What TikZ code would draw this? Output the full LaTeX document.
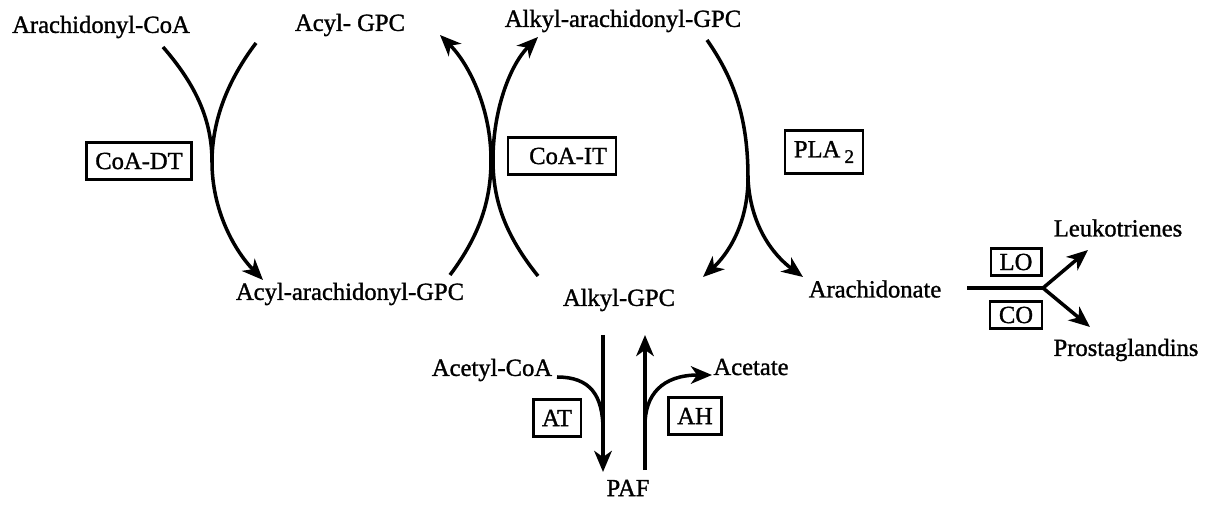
\documentclass[tikz,border=0pt]{standalone}
\usepackage{fontspec}
\setmainfont{Liberation Serif}[BoldFont={Liberation Serif}, BoldFeatures={FakeBold=1.2}]
\usetikzlibrary{arrows.meta}

\tikzset{
  enzyme/.style={draw=black, line width=1.5pt, inner xsep=5pt, inner ysep=6pt},
  smallenzyme/.style={enzyme, inner ysep=3pt},
  flux/.style={line width=2pt},
}

\begin{document}
\begin{tikzpicture}
            [x=0.02cm, y=-0.02cm, >={Stealth[length=12pt,width=10pt,inset=3.5pt]},
             font=\fontsize{14}{16}\bfseries, semithick]
            \useasboundingbox (0,0) rectangle (1220,506);

            % metabolites
            \node (arcoa) at (101,27) {Arachidonyl-CoA};
            \node (acylgpc) at (350,25) {Acyl- GPC};
            \node (alkaragpc) at (623,21) {Alkyl-arachidonyl-GPC};
            \node (acylaragpc) at (350,294) {Acyl-arachidonyl-GPC};
            \node (alkylgpc) at (619,300) {Alkyl-GPC};
            \node (arach) at (875,289) {Arachidonate};
            \node (leuko) at (1118,228) {Leukotrienes};
            \node (prosta) at (1126,350) {Prostaglandins};
            \node (acetylcoa) at (492,370) {Acetyl-CoA};
            \node (acetate) at (751,367) {Acetate};
            \node (paf) at (628,488) {PAF};

            % enzymes
            \node[enzyme] (coadt) at (139,161) {CoA-DT};
            \node[enzyme] (coait) at (562,156) {\hspace{0.5em}CoA-IT};
            \node[enzyme] (pla) at (824,152) {PLA\,\raisebox{-0.5ex}{\fontsize{11}{12}\selectfont 2}};
            \node[smallenzyme] (lo) at (1016,262) {LO};
            \node[smallenzyme] (co) at (1016,315) {CO};
            \node[enzyme] (at) at (557,418) {AT};
            \node[enzyme] (ah) at (695,416) {AH};

            % connector ends
            \coordinate (dtin) at (163,47);
            \coordinate (dtco) at (256,43);
            \coordinate (dtj) at (212,162);
            \coordinate (dtout) at (263,280);
            \coordinate (itl) at (450,275);
            \coordinate (itr) at (538,276);
            \coordinate (itlout) at (440,35);
            \coordinate (itrout) at (538,37);
            \coordinate (plain) at (707,40);
            \coordinate (plaj) at (748,178);
            \coordinate (plal) at (703,277);
            \coordinate (plar) at (803,277);
            \coordinate (arin) at (967,288);
            \coordinate (arj) at (1043,288);
            \coordinate (ltout) at (1088,250);
            \coordinate (pgout) at (1090,327);
            \coordinate (atin) at (603,335);
            \coordinate (atj) at (603,430);
            \coordinate (atout) at (603,472);
            \coordinate (acin) at (557,377);
            \coordinate (ahin) at (645,470);
            \coordinate (ahj) at (645,425);
            \coordinate (ahout) at (645,335);
            \coordinate (aceout) at (712,375);

            % CoA-DT
            \draw[flux, ->] (dtin) .. controls (196,85) and (212,120) .. (dtj)
                .. controls (212,210) and (234,250) .. (dtout);
            \draw[flux] (dtco) .. controls (228,80) and (212,120) .. (dtj);

            % CoA-IT
            \draw[flux, ->] (itl) .. controls (480,235) and (491,200) .. (491,160)
                .. controls (491,110) and (470,65) .. (itlout);
            \draw[flux, ->] (itr) .. controls (505,235) and (493,200) .. (493,160)
                .. controls (493,110) and (510,65) .. (itrout);

            % PLA2
            \draw[flux] (plain) .. controls (735,80) and (748,120) .. (plaj);
            \draw[flux, ->] (plaj) .. controls (748,225) and (727,255) .. (plal);
            \draw[flux, ->] (plaj) .. controls (750,225) and (773,255) .. (plar);

            % LO / CO
            \draw[flux] (arin) -- (arj);
            \draw[flux, ->] (arj) -- (ltout);
            \draw[flux, ->] (arj) -- (pgout);

            % AT / AH
            \draw[flux, ->] (atin) -- (atout);
            \draw[flux] (acin) .. controls (590,377) and (603,395) .. (atj);
            \draw[flux, ->] (ahin) -- (ahout);
            \draw[flux, ->] (ahj) .. controls (645,395) and (662,375) .. (aceout);
        \end{tikzpicture}
\end{document}
